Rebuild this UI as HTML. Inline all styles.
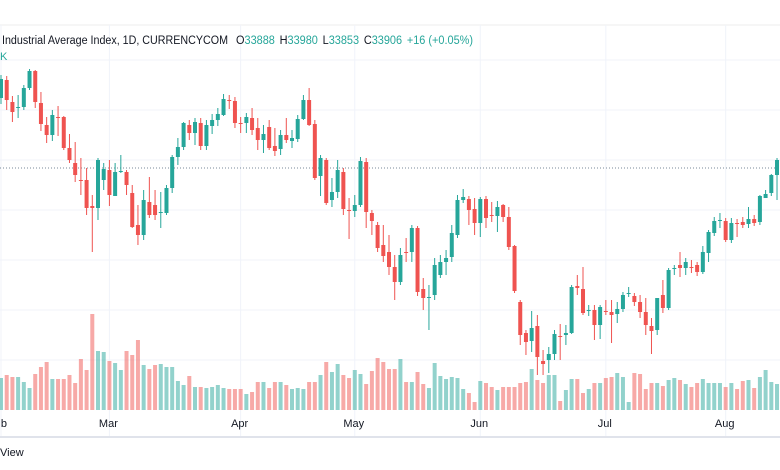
<!DOCTYPE html>
<html><head><meta charset="utf-8"><style>
html,body{margin:0;padding:0;background:#fff;}
svg{display:block;font-family:"Liberation Sans",sans-serif;}
</style></head><body>
<svg id="chart" width="780" height="470" viewBox="0 0 780 470" xmlns="http://www.w3.org/2000/svg">
<rect x="0" y="0" width="780" height="470" fill="#ffffff"/>
<line x1="0" y1="25" x2="780" y2="25" stroke="#eeeeee"/>
<g id="grid"></g>
<line x1="0" y1="168" x2="780" y2="168" stroke="#7a8a99" stroke-width="1" stroke-dasharray="1,2"/>
<g id="vol"></g>
<g id="candles"></g>
<g id="xaxis"></g>
<line x1="0" y1="437" x2="780" y2="437" stroke="#e0e3eb" stroke-width="2"/>
<text x="2" y="44" font-size="11.5" fill="#131722" textLength="226" lengthAdjust="spacingAndGlyphs">Industrial Average Index, 1D, CURRENCYCOM</text>
<text x="236" y="44" font-size="11.5" textLength="237" lengthAdjust="spacingAndGlyphs"><tspan fill="#131722">O</tspan><tspan fill="#26a69a">33888</tspan><tspan fill="#131722" dx="5">H</tspan><tspan fill="#26a69a">33980</tspan><tspan fill="#131722" dx="5">L</tspan><tspan fill="#26a69a">33853</tspan><tspan fill="#131722" dx="5">C</tspan><tspan fill="#26a69a">33906</tspan><tspan fill="#26a69a" dx="5">+16 (+0.05%)</tspan></text>
<text x="0" y="60" font-size="11" fill="#26a69a">K</text>
<text x="0" y="456" font-size="11" fill="#131722">View</text>
</svg>
<script>
const opens=[34606,34786,34566,34506,34516,34706,34876,34556,34336,34236,34416,34416,34106,33956,33786,33786,33526,33506,33786,33886,33626,33866,33866,33656,33336,33236,33566,33536,33456,33456,33706,34016,34116,34336,34256,34356,34126,34326,34386,34436,34586,34576,34356,34356,34406,34306,34186,34316,34126,34096,34236,34176,34196,34396,34586,34346,33826,33986,33586,33666,33866,33486,33476,33536,33966,33456,33336,33136,33066,32916,32766,33066,33066,33306,32696,32606,32636,32836,32966,33016,33236,33586,33596,33496,33356,33596,33436,33426,33536,33416,33126,32566,32256,32176,32326,31976,31986,32046,32226,32236,32256,32726,32696,32476,32486,32336,32476,32466,32446,32496,32646,32626,32566,32466,32326,32286,32636,32506,32896,32936,32906,32916,32936,32866,33056,33256,33376,33376,33186,33356,33366,33346,33396,33366,33606,33656,33836];
const closes=[34796,34586,34466,34516,34706,34876,34566,34346,34236,34436,34406,34106,33986,33836,33776,33506,33506,33986,33896,33636,33866,33876,33736,33316,33236,33586,33436,33436,33466,33706,34016,34116,34356,34256,34366,34126,34336,34386,34446,34596,34576,34356,34346,34416,34286,34186,34246,34106,34076,34236,34186,34206,34396,34586,34336,33806,34006,33556,33666,33886,33496,33476,33536,33976,33466,33376,33106,33026,32916,32766,33036,33056,33306,32666,32606,32616,32936,32966,33006,33256,33586,33616,33486,33356,33596,33406,33426,33516,33416,33116,32676,32236,32166,32306,32016,31946,32046,32246,32216,32256,32716,32706,32456,32486,32336,32516,32466,32436,32496,32636,32656,32566,32466,32336,32276,32606,32506,32886,32906,32906,32966,32906,32866,33066,33266,33376,33386,33186,33356,33346,33336,33396,33356,33626,33646,33836,33986];
const highs=[34836,34826,34626,34636,34736,34896,34886,34666,34416,34486,34526,34426,34246,34166,34006,33906,33636,34006,33956,33986,33956,34036,33886,33736,33536,33686,33816,33686,33666,33736,34036,34206,34366,34386,34406,34406,34386,34446,34506,34646,34636,34616,34416,34456,34506,34406,34336,34386,34306,34286,34406,34286,34436,34636,34706,34386,34036,34006,33806,33986,33906,33606,33636,34016,34006,33486,33366,33336,33236,33036,33106,33206,33336,33326,32806,32736,33006,33036,33086,33336,33636,33696,33626,33606,33616,33626,33566,33576,33546,33516,33136,32586,32286,32476,32436,32086,32116,32286,32346,32336,32736,32836,32916,32536,32536,32536,32586,32586,32566,32666,32716,32656,32636,32606,32406,32606,32786,32906,32936,33066,33006,32986,32966,33126,33286,33416,33456,33406,33406,33396,33416,33516,33436,33636,33686,33846,34006];
const lows=[34546,34486,34366,34406,34486,34686,34506,34276,34156,34176,34226,34086,33956,33766,33636,33436,33066,33386,33686,33526,33626,33856,33636,33306,33136,33186,33406,33386,33306,33436,33656,33936,34086,34186,34136,34086,34086,34246,34326,34426,34496,34306,34256,34256,34236,34086,34056,34086,34026,34036,34156,34106,34166,34386,34326,33786,33626,33536,33516,33606,33436,33196,33416,33516,33306,33236,33066,32966,32836,32586,32736,32966,32966,32626,32486,32286,32586,32806,32836,32966,33206,33556,33336,33236,33216,33306,33366,33266,33366,33086,32656,32136,32036,32066,31836,31836,31856,31986,31986,32136,32246,32636,32436,32426,32186,32196,32436,32156,32356,32466,32616,32526,32406,32236,32046,32236,32456,32486,32836,32816,32836,32856,32826,32846,32966,33226,33306,33166,33156,33216,33306,33306,33326,33336,33606,33626,33586];
const volumes=[32,35,33,33,28,22,36,43,48,31,31,31,35,27,51,40,96,59,58,49,47,40,59,55,70,45,41,45,46,43,43,29,25,34,23,23,22,23,25,22,21,21,21,16,18,28,28,22,28,28,25,21,22,21,28,28,35,48,38,46,35,32,40,36,26,39,52,48,41,41,51,28,28,38,26,22,47,34,31,33,32,21,17,8,29,27,23,20,23,23,23,27,28,41,30,27,35,35,9,20,31,31,17,21,27,27,32,33,37,33,8,37,36,21,27,27,24,30,32,30,26,23,27,31,27,27,27,23,27,21,29,30,22,33,40,28,26];
const monthLabels=["b","Mar","Apr","May","Jun","Jul","Aug"];
const monthIndex=[0,19,42,62,84,106,127];
const priceTicks=[34986,34486,33986,33486,32986,32486,31986];

const NS="http://www.w3.org/2000/svg";
const X0=1, STEP=5.706;
function xOf(i){return X0+i*STEP;}
function yOf(p){return 168-(p-33906)/10;}
const VOL_BASE=410, VOL_SCALE=1.0;
function vY(v){return VOL_BASE-v*VOL_SCALE;}
function mk(tag,attrs,parent){const e=document.createElementNS(NS,tag);for(const k in attrs)e.setAttribute(k,attrs[k]);parent.appendChild(e);return e;}
const GREEN="#26a69a",RED="#ef5350";
const grid=document.getElementById('grid');
priceTicks.forEach(p=>{
  const l=mk('line',{x1:0,x2:780,y1:yOf(p),y2:yOf(p),stroke:'#f0f3fa','stroke-width':1},grid);
  
  
});
const xa=document.getElementById('xaxis');
monthIndex.forEach((mi,k)=>{
  const x=xOf(mi);
  const l=mk('line',{x1:x,x2:x,y1:25,y2:437,stroke:'#f0f3fa','stroke-width':1},grid);
  
  
  const t=mk('text',{x:x-1,y:427,'font-size':11,fill:'#131722','text-anchor':k===0?'end':'middle'},xa);
  if(k===0){t.setAttribute('x',x+6);}
  t.textContent=monthLabels[k];
  
  
});
const vg=document.getElementById('vol');
const cg=document.getElementById('candles');
for(let i=0;i<opens.length;i++){
  const up=closes[i]>=opens[i];
  const col=up?GREEN:RED;
  const x=xOf(i);
  const v=mk('rect',{x:x-2,y:vY(volumes[i]),width:4,height:volumes[i]*VOL_SCALE,fill:col,'fill-opacity':0.5},vg);
  
  
  const w=mk('line',{x1:x,x2:x,y1:yOf(highs[i]),y2:yOf(lows[i]),stroke:col,'stroke-width':1},cg);
  
  
  const top=yOf(Math.max(opens[i],closes[i])),bot=yOf(Math.min(opens[i],closes[i]));
  const b=mk('rect',{x:x-2,y:top,width:4,height:Math.max(1,bot-top),fill:col},cg);
  
  
}
</script>
</body></html>
